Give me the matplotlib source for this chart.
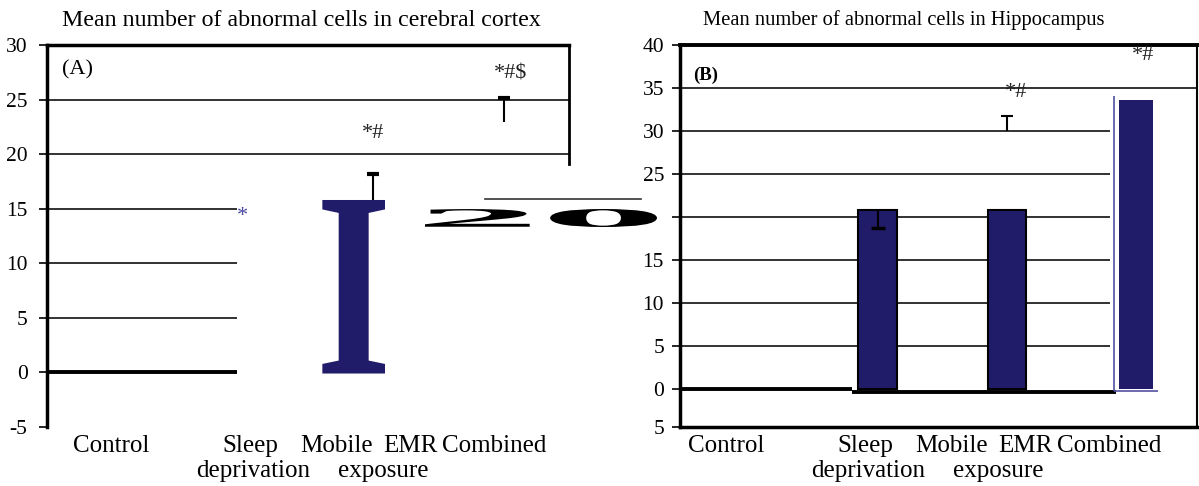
import matplotlib
matplotlib.use("Agg")
import matplotlib.pyplot as plt
from matplotlib.textpath import TextPath
from matplotlib.font_manager import FontProperties
from matplotlib.patches import PathPatch
from matplotlib.transforms import Affine2D

W, H = 1199, 486
NAVY = "#211c6a"
SERIF = "Liberation Serif"

groups = ["Control", "Sleep deprivation", "Mobile EMR exposure", "Combined"]

# panel A: cerebral cortex
cortex_mean = [0.0, 0.0, 15.8, 0.0]
cortex_err_lo = [None, None, 15.8, 22.9]
cortex_err_hi = [None, None, 18.2, 25.1]
cortex_marks = ["", "*", "*#", "*#$"]
cortex_mark_y = [0, 14.3, 21.9, 27.3]

# panel B: hippocampus
hippo_mean = [0.0, 20.8, 20.8, 33.6]
hippo_err_lo = [None, 18.7, 30.0, None]
hippo_err_hi = [None, 20.8, 31.7, None]
hippo_cap_at_top = [None, False, True, None]
hippo_marks = ["", "", "*#", "*#"]
hippo_mark_y = [0, 0, 34.5, 38.8]

ticks_a = [-5, 0, 5, 10, 15, 20, 25, 30]
ticks_b = [-4.37, 0, 5, 10, 15, 20, 25, 30, 35, 40]
ticklabels_b = ["5", "0", "5", "10", "15", "", "25", "30", "35", "40"]

# x labels as they were laid out (word, left edge in px, line)
label_words = [("Control", 73, 0), ("Sleep", 222, 0), ("Mobile", 300, 0), ("EMR", 383, 0),
               ("Combined", 442, 0), ("deprivation", 196, 1), ("exposure", 338, 1)]
panel_shift = [0, 615]


def fx(px):
    return px / W


def fy(py):
    return 1 - py / H


def glyph(s, x0, x1, y0, y1, transform, color, weight="normal"):
    # draw a text glyph squeezed into a given box
    tp = TextPath((0, 0), s, size=100, prop=FontProperties(family=SERIF, weight=weight))
    e = tp.get_extents()
    tr = Affine2D().translate(-e.x0, -e.y0).scale((x1 - x0) / e.width, (y1 - y0) / e.height).translate(x0, y0)
    return PathPatch(tr.transform_path(tp), transform=transform, fc=color, ec="none", lw=0)


def errbar(ax, x, lo, hi, cap_top=True, capw=9, capt=2.5):
    ax.vlines(x, lo, hi, color="black", lw=1.5, zorder=3)
    ax.plot([x], [hi if cap_top else lo], marker="_", ms=capw, mew=capt, color="black", zorder=3)


def style_axis(ax, pad):
    ax.tick_params(axis="y", direction="out", length=5.5, width=1.2, labelsize=15.5, pad=pad)
    ax.tick_params(axis="x", bottom=False, labelbottom=False)
    for lab in ax.get_yticklabels():
        lab.set_family(SERIF)


fig = plt.figure(figsize=(W / 100, H / 100), dpi=100)

# ---------------- panel A
axa = fig.add_axes([fx(47), fy(427), fx(569 - 47), (427 - 45) / H])
axa.set_xlim(-0.5, 3.5)
axa.set_ylim(-5, 30)
axa.set_yticks(ticks_a)
axa.set_yticklabels([str(t) for t in ticks_a])
style_axis(axa, 8.5)
axa.spines["bottom"].set_visible(False)
axa.spines["left"].set_linewidth(2.5)
axa.spines["top"].set_linewidth(2.5)
axa.spines["right"].set_linewidth(2.0)
axa.spines["right"].set_bounds(19.1, 30)

axa.hlines([25, 20], -0.5, 3.5, color="#222222", lw=1.3, zorder=1)
axa.hlines([15, 10, 5], -0.5, 0.956, color="#222222", lw=1.3, zorder=1)
axa.hlines([0], -0.5, 0.956, color="black", lw=2.8, zorder=1)

# the mobile EMR bar, drawn as a large serif "I"
i_off, i_half = -0.15, 0.24
axa.add_patch(glyph("I", 2 + i_off - i_half, 2 + i_off + i_half, -0.1, cortex_mean[2],
                    axa.transData, NAVY, weight="bold"))

for i in range(4):
    if cortex_err_lo[i] is not None:
        errbar(axa, i, cortex_err_lo[i], cortex_err_hi[i], cap_top=True, capw=8, capt=3)
    if cortex_marks[i]:
        col = "#4a47a3" if i == 1 else "#222222"
        axa.text(i + (0.05 if i == 3 else 0), cortex_mark_y[i], cortex_marks[i], ha="center",
                 va="center", fontsize=16, family=SERIF, color=col)

axa.text(0.028, 0.935, "(A)", transform=axa.transAxes, fontsize=16, family=SERIF,
         ha="left", va="center")

# ---------------- panel B
axb = fig.add_axes([fx(680), fy(427), fx(1197 - 680), (427 - 45) / H])
axb.set_xlim(-0.53, 3.47)
axb.set_ylim(-4.37, 40)
axb.set_yticks(ticks_b)
axb.set_yticklabels(ticklabels_b)
style_axis(axb, 6)
axb.spines["left"].set_linewidth(2.5)
axb.spines["top"].set_linewidth(2.8)
axb.spines["bottom"].set_linewidth(2.5)
axb.spines["right"].set_linewidth(1.5)

axb.hlines([35], -0.53, 3.47, color="#222222", lw=1.3, zorder=1)
axb.hlines([30, 25, 20, 15, 10, 5], -0.53, 2.80, color="#222222", lw=1.3, zorder=1)
axb.hlines([0], -0.53, 0.8, color="black", lw=2.8, zorder=1)
axb.hlines([-0.25], 0.8, 2.84, color="black", lw=2.8, zorder=1)

bw = [0.3, 0.3, 0.3, 0.26]
for i in range(1, 4):
    axb.bar(i, hippo_mean[i], width=bw[i], color=NAVY,
            edgecolor="black" if i < 3 else NAVY, lw=1.5 if i < 3 else 0, zorder=2)
    if hippo_err_lo[i] is not None:
        errbar(axb, i, hippo_err_lo[i], hippo_err_hi[i], cap_top=hippo_cap_at_top[i],
               capw=10 if i == 1 else 8, capt=2.5 if i == 1 else 1.5)
    if hippo_marks[i]:
        axb.text(i + (0.07 if i == 2 else 0.05), hippo_mark_y[i], hippo_marks[i], ha="center",
                 va="center", fontsize=16, family=SERIF, color="#222222")

# stray outline of the combined bar
axb.vlines(3 - 0.175, -0.2, hippo_mean[3] + 0.5, color="#5250a0", lw=1.2, zorder=3)
axb.hlines(-0.2, 3 - 0.175, 3 + 0.17, color="#5250a0", lw=1.2, zorder=3)

axb.text(0.025, 0.92, "(B)", transform=axb.transAxes, fontsize=13.5, family=SERIF,
         weight="bold", ha="left", va="center")

# ---------------- titles and category labels
tkw = dict(family=SERIF, ha="left", va="center")
fig.text(fx(62), fy(20), "Mean number of abnormal cells in cerebral cortex", fontsize=17.2, **tkw)
fig.text(fx(703), fy(20), "Mean number of abnormal cells in Hippocampus", fontsize=14.8, **tkw)

for shift in panel_shift:
    for word, left, line in label_words:
        fig.text(fx(left + shift), fy(446 + 25 * line), word, family=SERIF, fontsize=18,
                 va="center", ha="left")

# the stretched "20" left between the panels
fig.add_artist(glyph("20", fx(425), fx(657), fy(227), fy(209), fig.transFigure, "black", weight="bold"))
fig.add_artist(plt.Line2D([fx(485), fx(641)], [fy(199), fy(199)], transform=fig.transFigure,
                          color="#333333", lw=1.2))

fig.savefig("out.png", dpi=100)
